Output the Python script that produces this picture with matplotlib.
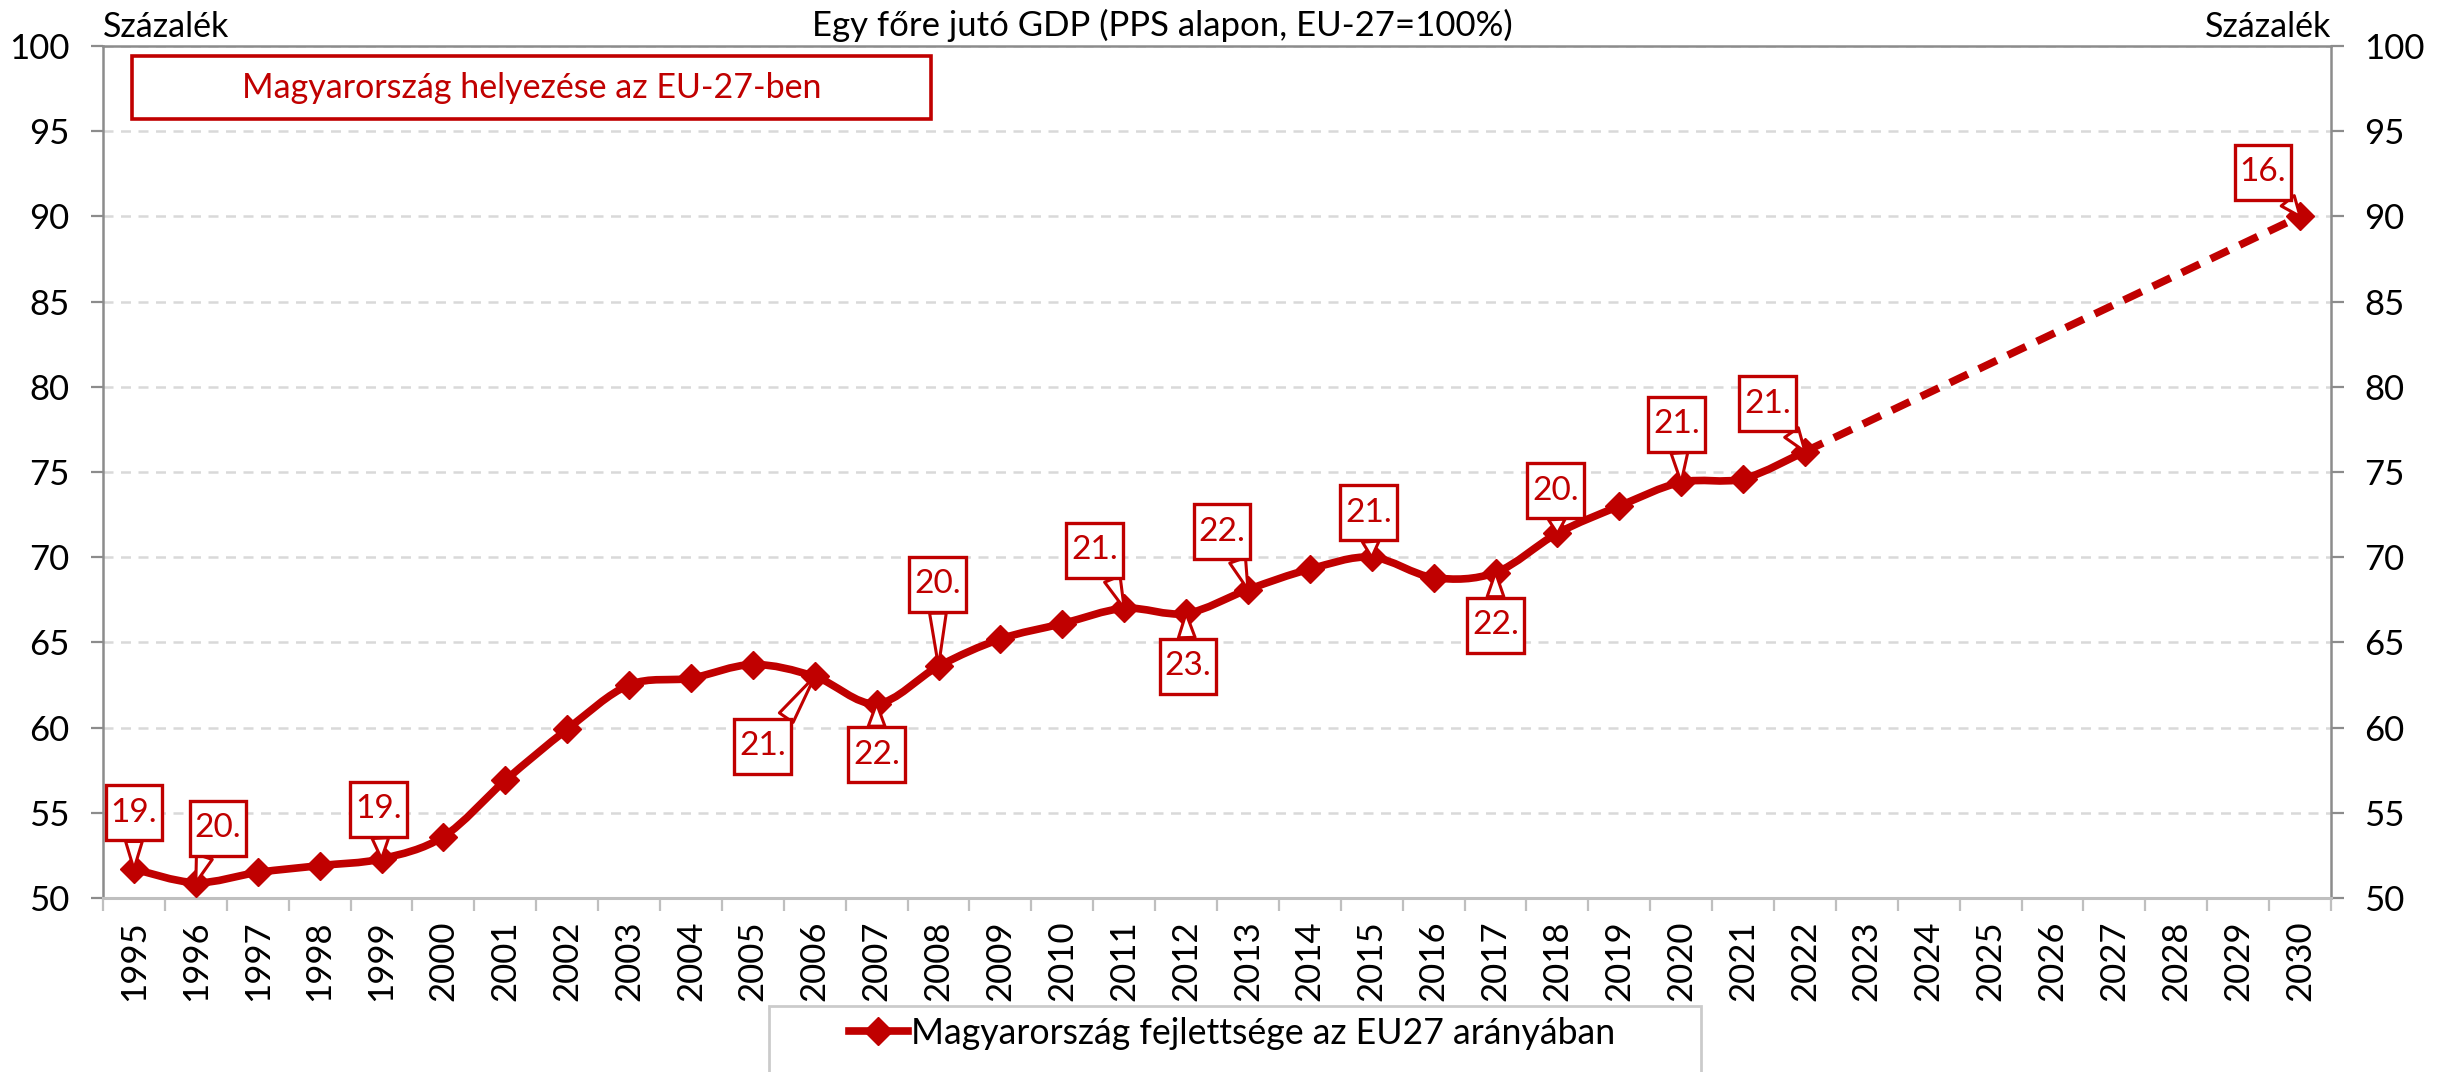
import numpy as np
import matplotlib
matplotlib.use("Agg")
import matplotlib.pyplot as plt
from matplotlib.path import Path
from matplotlib.patches import PathPatch, Rectangle
from matplotlib.lines import Line2D

# ---------------- data ----------------
years = list(range(1995, 2031))
hist_years = list(range(1995, 2023))
hist_values = [51.7, 50.9, 51.5, 51.9, 52.3, 53.6, 56.9, 59.9, 62.5, 62.9,
               63.7, 63.0, 61.4, 63.6, 65.2, 66.1, 67.0, 66.7, 68.1, 69.3,
               70.0, 68.8, 69.1, 71.4, 73.0, 74.4, 74.6, 76.2]
target_year = 2030
target_value = 90.0

rank_years = [1995, 1996, 1999, 2006, 2007, 2008, 2011, 2012, 2013, 2015,
              2017, 2018, 2020, 2022, 2030]
rank_labels = ["19.", "20.", "19.", "21.", "22.", "20.", "21.", "23.", "22.",
               "21.", "22.", "20.", "21.", "21.", "16."]

title = "Egy főre jutó GDP (PPS alapon, EU-27=100%)"
unit_label = "Százalék"
box_title = "Magyarország helyezése az EU-27-ben"
legend_label = "Magyarország fejlettsége az EU27 arányában"
yticks = [50, 55, 60, 65, 70, 75, 80, 85, 90, 95, 100]

# ---------------- layout (callout offsets: category units, percentage points) ----------------
callout_offsets = [(0.0, 3.3), (0.36, 3.2), (-0.05, 2.9), (-0.84, -4.1), (0.0, -3.0),
                   (-0.02, 4.8), (-0.48, 3.4), (0.03, -3.1), (-0.42, 3.4), (-0.05, 2.6),
                   (0.0, -3.1), (-0.03, 2.5), (-0.07, 3.4), (-0.6, 2.8), (-0.6, 2.6)]

RED = "#C00000"
MAIN = ["Lato", "DejaVu Sans"]
plt.rcParams["font.family"] = MAIN

W, H = 2446, 1072
fig = plt.figure(figsize=(W / 100, H / 100), dpi=100)
L, R, T, B = 103, 2331, 46, 898
ax = fig.add_axes([L / W, 1 - B / H, (R - L) / W, (B - T) / H])

xs = np.array([years.index(y) for y in hist_years], dtype=float)
ys = np.array(hist_values, dtype=float)

# smooth (Excel-like) line drawn as cubic Bezier through the data points
pts = np.column_stack([xs, ys])
verts = [tuple(pts[0])]
codes = [Path.MOVETO]
n = len(pts)
for i in range(n - 1):
    p0 = pts[i - 1] if i > 0 else pts[i]
    p1 = pts[i]
    p2 = pts[i + 1]
    p3 = pts[i + 2] if i + 2 < n else pts[i + 1]
    c1 = p1 + (p2 - p0) / 6.0
    c2 = p2 - (p3 - p1) / 6.0
    verts += [tuple(c1), tuple(c2), tuple(p2)]
    codes += [Path.CURVE4] * 3
ax.add_patch(PathPatch(Path(verts, codes), fill=False, ec=RED, lw=5.5,
                       capstyle="round", joinstyle="round", zorder=3))

tx = years.index(target_year)
ax.plot([xs[-1], tx], [ys[-1], target_value], color=RED, lw=5.5,
        linestyle=(0, (2.6, 1.6)), dash_capstyle="butt", zorder=3)

mk = dict(marker="D", ms=14, mfc=RED, mec=RED, linestyle="none", zorder=4)
ax.plot(xs, ys, **mk)
ax.plot([tx], [target_value], **mk)


def callout_box(x0, y0, width, height, mutation_size):
    cx = x0 + width / 2.0
    cy = y0 + height / 2.0
    w = max(width + 0.3 * mutation_size, 1.7 * mutation_size)
    h = 1.65 * mutation_size
    l, r, b, t = cx - w / 2, cx + w / 2, cy - h / 2, cy + h / 2
    return Path([(l, b), (r, b), (r, t), (l, t), (l, b)],
                [Path.MOVETO, Path.LINETO, Path.LINETO, Path.LINETO, Path.CLOSEPOLY])


# callouts
all_x = list(xs) + [tx]
all_y = list(ys) + [target_value]
all_years = hist_years + [target_year]
for yr, lab, (dx, dy) in zip(rank_years, rank_labels, callout_offsets):
    px = all_x[all_years.index(yr)]
    py = all_y[all_years.index(yr)]
    rel_y = 0.0 if dy > 0 else 1.0
    rel_x = float(np.clip(0.5 - dx * 0.55, 0.25, 0.8))
    ax.annotate(lab, xy=(px, py), xytext=(px + dx, py + dy),
                textcoords="data", ha="center", va="center",
                fontsize=24, color=RED, zorder=6,
                bbox=dict(boxstyle=callout_box, fc="white", ec=RED, lw=2.4),
                arrowprops=dict(arrowstyle="wedge,tail_width=0.5,shrink_factor=0.5",
                                fc="white", ec=RED, lw=2.2, relpos=(rel_x, rel_y),
                                shrinkA=0, shrinkB=0))

# header box
bx0 = (132 - L) / (R - L)
bx1 = (931 - L) / (R - L)
by0 = (B - 119) / (B - T)
by1 = (B - 56) / (B - T)
ax.add_patch(Rectangle((bx0, by0), bx1 - bx0, by1 - by0, transform=ax.transAxes,
                       fc="white", ec=RED, lw=2.6, zorder=5))
ax.text((bx0 + bx1) / 2, (by0 + by1) / 2, box_title, transform=ax.transAxes,
        ha="center", va="center", color=RED, fontsize=24.5, zorder=6)

# axes styling
ax.set_xlim(-0.5, len(years) - 0.5)
ax.set_ylim(50, 100)
ax.set_yticks(yticks)
ax.set_yticklabels([str(v) for v in yticks])
ax.tick_params(axis="y", which="both", left=True, right=True, labelleft=True,
               labelright=True, length=9, width=1.6, color="#8C8C8C",
               labelsize=25, pad=15)
ax.set_xticks(np.arange(-0.5, len(years), 1.0))
ax.set_xticklabels([])
ax.set_xticks(np.arange(len(years)), minor=True)
ax.set_xticklabels([str(y) for y in years], minor=True, rotation=90, fontsize=25)
ax.tick_params(axis="x", which="major", length=9, width=1.6, color="#BFBFBF")
ax.tick_params(axis="x", which="minor", length=0, pad=16)

ax.grid(axis="y", color="#D9D9D9", lw=1.8, linestyle=(0, (4, 3)))
ax.set_axisbelow(True)
for s in ["left", "right", "top"]:
    ax.spines[s].set_color("#8C8C8C")
    ax.spines[s].set_linewidth(1.8)
ax.spines["bottom"].set_color("#BFBFBF")
ax.spines["bottom"].set_linewidth(2.2)

# texts
fig.text(1162 / W, 1 - 25 / H, title, ha="center", va="center", fontsize=25)
fig.text(L / W, 1 - 27 / H, unit_label, ha="left", va="center", fontsize=24.5)
fig.text(R / W, 1 - 27 / H, unit_label, ha="right", va="center", fontsize=24.5)


# legend
def legend_frame(x0, y0, width, height, mutation_size):
    l = x0 - 1.93 * mutation_size
    r = x0 + width + 2.1 * mutation_size
    b, t = y0 - 0.6 * mutation_size, y0 + height
    return Path([(l, b), (r, b), (r, t), (l, t), (l, b)],
                [Path.MOVETO, Path.LINETO, Path.LINETO, Path.LINETO, Path.CLOSEPOLY])


handle = Line2D([], [], color=RED, lw=5.5, marker="D", ms=14, mfc=RED, mec=RED)
leg = fig.legend([handle], [legend_label], loc="upper center",
                 bbox_to_anchor=(1232 / W, 1 - 1006 / H), fontsize=25.7,
                 frameon=True, fancybox=False, edgecolor="#BFBFBF",
                 handlelength=1.65, borderpad=0.3, handletextpad=0.1,
                 borderaxespad=0)
leg.get_frame().set_linewidth(2.0)
leg.get_frame().set_boxstyle(legend_frame)

fig.savefig("out.png", dpi=100)
